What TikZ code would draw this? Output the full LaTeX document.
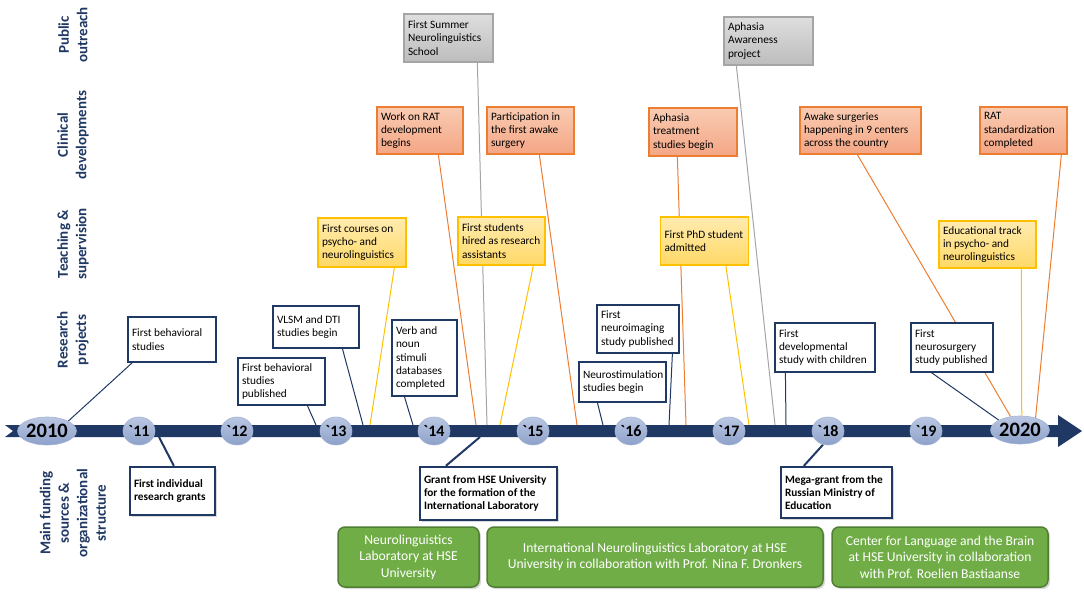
\documentclass[tikz,border=0pt]{standalone}
\usepackage{fontspec}
\setmainfont{Carlito}
\usetikzlibrary{shapes.geometric,shadows,backgrounds}
\definecolor{navy}{HTML}{1F3864}
\definecolor{clinedge}{HTML}{ED7D31}
\definecolor{clintop}{HTML}{F9CBB2}
\definecolor{clinbot}{HTML}{F4A685}
\definecolor{teachedge}{HTML}{FFC000}
\definecolor{teachtop}{HTML}{FFEBB0}
\definecolor{teachbot}{HTML}{FFD966}
\definecolor{pubedge}{HTML}{A5A5A5}
\definecolor{pubtop}{HTML}{DEDEDE}
\definecolor{pubbot}{HTML}{BDBDBD}
\definecolor{labgreen}{HTML}{70AD47}
\definecolor{labedge}{HTML}{507E32}
\definecolor{yeartop}{HTML}{BAC7E3}
\definecolor{yearbot}{HTML}{8DA1C9}
\tikzset{
  box/.style={rectangle, inner xsep=4pt, inner ysep=3pt, align=flush left,
    font=\fontsize{11.3}{13.4}\selectfont},
  resbox/.style={box, draw=navy, line width=1.2pt, fill=white},
  fundbox/.style={box, draw=navy, line width=2.3pt, fill=white,
    font=\fontsize{11.3}{13.4}\selectfont\bfseries,
    drop shadow={shadow xshift=2pt, shadow yshift=-2pt, opacity=0.3}},
  clinbox/.style={box, draw=clinedge, line width=1.3pt,
    top color=clintop, bottom color=clinbot},
  teachbox/.style={box, draw=teachedge, line width=1.3pt,
    top color=teachtop, bottom color=teachbot},
  pubbox/.style={box, draw=pubedge, line width=1.3pt,
    top color=pubtop, bottom color=pubbot},
  labbox/.style={rectangle, rounded corners=7pt, draw=labedge, line width=1.5pt,
    fill=labgreen, text=white, align=center, minimum height=60,
    font=\fontsize{13.6}{16.5}\selectfont,
    drop shadow={shadow xshift=2pt, shadow yshift=-2pt, opacity=0.3}},
  yearmark/.style={ellipse, inner sep=0pt, draw=yearbot!80, line width=0.6pt,
    top color=yeartop, bottom color=yearbot, minimum width=32, minimum height=28,
    font=\fontsize{16}{16}\selectfont\bfseries, text=black},
  bigyear/.style={yearmark, minimum width=55, minimum height=28,
    font=\fontsize{20.5}{20.5}\selectfont\bfseries},
  rowlabel/.style={rotate=90, align=center, text=navy,
    font=\fontsize{15}{18.5}\selectfont\bfseries},
  resline/.style={draw=navy, line width=1pt},
  fundline/.style={draw=navy, line width=2pt},
  clinline/.style={draw=clinedge, line width=1pt},
  teachline/.style={draw=teachedge, line width=1pt},
  publine/.style={draw=pubedge, line width=1pt}
}
\begin{document}
\begin{tikzpicture}[x=1pt, y=-1pt]
  \useasboundingbox (0,0) rectangle (1084,596);

  \node[rowlabel] (lPublic) at (73,35) {Public\\outreach};
  \node[rowlabel] (lClinical) at (73,135) {Clinical\\developments};
  \node[rowlabel] (lTeaching) at (73,244) {Teaching \&\\supervision};
  \node[rowlabel] (lResearch) at (73,340) {Research\\projects};
  \node[rowlabel] (lFunding) at (73,513) {Main funding\\sources \&\\organizational\\structure};

  \fill[navy] (5,425) -- (1058,425) -- (1058,415) -- (1082,431) -- (1058,447)
    -- (1058,437) -- (5,437) -- (13,431) -- cycle;

  \node[bigyear] (y2010) at (47,431) {2010};
  \node[yearmark] (y11) at (139,431) {\textasciigrave 11};
  \node[yearmark] (y12) at (237,431) {\textasciigrave 12};
  \node[yearmark] (y13) at (336,431) {\textasciigrave 13};
  \node[yearmark] (y14) at (434,431) {\textasciigrave 14};
  \node[yearmark] (y15) at (533,431) {\textasciigrave 15};
  \node[yearmark] (y16) at (631,431) {\textasciigrave 16};
  \node[yearmark] (y17) at (729,431) {\textasciigrave 17};
  \node[yearmark] (y18) at (828,431) {\textasciigrave 18};
  \node[yearmark] (y19) at (926,431) {\textasciigrave 19};
  \node[bigyear] (y2020) at (1020,430) {2020};

  \node[resbox, text width=80, minimum height=45] (r1) at (172,339.5) {First behavioral\\studies};
  \node[resbox, text width=79, minimum height=47] (r2) at (281.5,381.5) {First behavioral\\studies\\published};
  \node[resbox, text width=78, minimum height=42] (r3) at (316,327) {VLSM and DTI\\studies begin};
  \node[resbox, text width=57, minimum height=76] (r4) at (424.5,358) {Verb and\\noun\\stimuli\\databases\\completed};
  \node[resbox, text width=79, minimum height=40] (r5) at (622.5,382) {Neurostimulation\\studies begin};
  \node[resbox, text width=74, minimum height=48] (r6) at (638,329) {First\\neuroimaging\\study published};
  \node[resbox, text width=92, minimum height=49] (r7) at (825,347.5) {First\\developmental\\study with children};
  \node[resbox, text width=74, minimum height=49] (r8) at (952,347.5) {First\\neurosurgery\\study published};

  \node[fundbox, text width=77, minimum height=48] (f1) at (172.5,491) {First individual\\research grants};
  \node[fundbox, text width=129, minimum height=53] (f2) at (488.5,493.5) {Grant from HSE University\\for the formation of the\\International Laboratory};
  \node[fundbox, text width=103, minimum height=51] (f3) at (836.5,492.5) {Mega-grant from the\\Russian Ministry of\\Education};

  \node[labbox, minimum width=141] (g1) at (408.5,557) {Neurolinguistics\\Laboratory at HSE\\University};
  \node[labbox, minimum width=336] (g2) at (655,557) {International Neurolinguistics Laboratory at HSE\\University in collaboration with Prof. Nina F. Dronkers};
  \node[labbox, minimum width=216] (g3) at (940,557) {Center for Language and the Brain\\at HSE University in collaboration\\with Prof. Roelien Bastiaanse};

  \node[teachbox, text width=80, minimum height=49] (t1) at (362,242.5) {First courses on\\psycho- and\\neurolinguistics};
  \node[teachbox, text width=79, minimum height=48] (t2) at (501.5,241) {First students\\hired as research\\assistants};
  \node[teachbox, text width=80, minimum height=48] (t3) at (704.5,241) {First PhD student\\admitted};
  \node[teachbox, text width=89, minimum height=47] (t4) at (987.5,244.5) {Educational track\\in psycho- and\\neurolinguistics};

  \node[clinbox, text width=78, minimum height=47] (c1) at (420,130.5) {Work on RAT\\development\\begins};
  \node[clinbox, text width=79, minimum height=47] (c2) at (530.5,130.5) {Participation in\\the first awake\\surgery};
  \node[clinbox, text width=80, minimum height=48] (c3) at (693,132) {Aphasia\\treatment\\studies begin};
  \node[clinbox, text width=113, minimum height=47] (c4) at (860.5,130.5) {Awake surgeries\\happening in 9 centers\\across the country};
  \node[clinbox, text width=79, minimum height=47] (c5) at (1023.5,130.5) {RAT\\standardization\\completed};

  \node[pubbox, text width=81, minimum height=48] (p1) at (448.5,38) {First Summer\\Neurolinguistics\\School};
  \node[pubbox, text width=81, minimum height=48] (p2) at (768.5,41) {Aphasia\\Awareness\\project};

  \coordinate (r2end) at (316,425);
  \coordinate (r3end) at (363,425);
  \coordinate (r4end) at (413,425);
  \coordinate (r5end) at (603,425);
  \coordinate (r6end) at (669,425);
  \coordinate (r7end) at (786,425);
  \coordinate (f1end) at (159,437);
  \coordinate (f2end) at (480,437);
  \coordinate (t1end) at (370,425);
  \coordinate (t2end) at (500,425);
  \coordinate (t3end) at (749,425);
  \coordinate (c1end) at (476,425);
  \coordinate (c2end) at (577,425);
  \coordinate (c3end) at (686,425);
  \coordinate (p1end) at (487,425);
  \coordinate (p2end) at (775,425);

  \begin{scope}[on background layer]
    \draw[resline] ([xshift=5]r1.south west) -- (y2010.25);
    \draw[resline] ([xshift=70]r2.south west) -- (r2end);
    \draw[resline] ([xshift=70]r3.south west) -- (r3end);
    \draw[resline] ([xshift=13]r4.south west) -- (r4end);
    \draw[resline] ([xshift=19]r5.south west) -- (r5end);
    \draw[resline] ([xshift=76]r6.south west) -- (r6end);
    \draw[resline] ([xshift=11]r7.south west) -- (r7end);
    \draw[resline] ([xshift=21]r8.south west) -- (y2020.155);
    \draw[fundline] ([xshift=45]f1.north west) -- (f1end);
    \draw[fundline] ([xshift=27]f2.north west) -- (f2end);
    \draw[fundline] ([xshift=24]f3.north west) -- (y18.-110);
    \draw[teachline] ([xshift=77]t1.south west) -- (t1end);
    \draw[teachline] ([xshift=76]t2.south west) -- (t2end);
    \draw[teachline] ([xshift=66]t3.south west) -- (t3end);
    \draw[teachline] ([xshift=83]t4.south west) -- (y2020.83);
    \draw[clinline] ([xshift=62]c1.south west) -- (c1end);
    \draw[clinline] ([xshift=53]c2.south west) -- (c2end);
    \draw[clinline] ([xshift=29]c3.south west) -- (c3end);
    \draw[clinline] ([xshift=58]c4.south west) -- (y2020.125);
    \draw[clinline] ([xshift=82]c5.south west) -- (y2020.38);
    \draw[publine] ([xshift=74]p1.south west) -- (p1end);
    \draw[publine] ([xshift=13]p2.south west) -- (p2end);
  \end{scope}
\end{tikzpicture}
\end{document}
